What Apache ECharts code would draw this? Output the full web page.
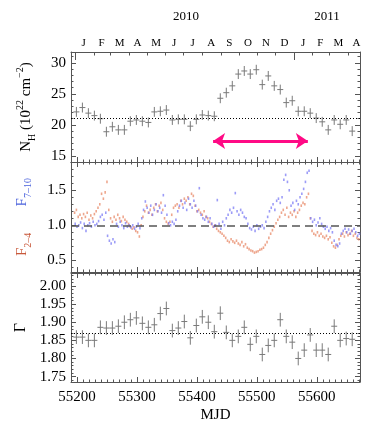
<!DOCTYPE html>
<html>
<head>
<meta charset="utf-8">
<script src="https://cdn.jsdelivr.net/npm/echarts@6/dist/echarts.min.js"></script>
<style>html,body{margin:0;padding:0;background:#fff}#chart{width:369px;height:424px}</style>
</head>
<body>
<div id="chart"></div>
<script>
// time axis (MJD)
var MJD_MIN = 55190, MJD_MAX = 55672;
var mjdTicks = [55200, 55300, 55400, 55500, 55600];

// 10 day bins: NH and photon index
var binStart = 55199, binStep = 10, binHalfWidth = 5;
var nhValues = [22.1, 22.8, 21.9, 21.5, 21.0, 18.9, 19.7, 19.2, 19.2, 20.6, 20.8, 20.6, 20.4, 22.1, 22.2, 22.4,
  20.8, 20.9, 20.9, 19.8, 20.9, 21.6, 21.5, 21.4, 24.3, 25.2, 26.3, 28.2, 28.7, 28.2, 28.9, 26.5,
  27.9, 26.3, 25.7, 23.6, 23.9, 22.2, 22.2, 21.9, 21.1, 20.5, 19.2, 20.8, 20.1, 20.8, 19.0];
var nhErr = 0.8;
var gammaValues = [1.859, 1.859, 1.850, 1.850, 1.886, 1.884, 1.884, 1.889, 1.900, 1.907, 1.912, 1.897, 1.886, 1.893, 1.924, 1.938,
  1.877, 1.884, 1.902, 1.857, 1.891, 1.915, 1.900, 1.874, 1.925, 1.872, 1.850, 1.861, 1.886, 1.839, 1.861, 1.811,
  1.836, 1.850, 1.907, 1.861, 1.845, 1.800, 1.823, 1.865, 1.823, 1.823, 1.811, 1.889, 1.850, 1.855, 1.853];
var gammaErr = 0.019;

// normalised fluxes, sampled every 3 days
var fluxStep = 3;
var f24Start = 55196;
var f24Values = [1.18, 1.22, 1.12, 1.15, 1.10, 1.16, 1.12, 1.18, 1.08, 1.14, 1.10, 1.16, 1.20,
  1.25, 1.30, 1.45, 1.38, 1.47, 1.62, 1.22, 1.10, 1.05, 1.12, 1.08, 1.15, 1.10, 1.06, 1.12, 1.08, 1.05, 1.02,
  0.98, 0.95, 0.97, 0.92, 0.90, 0.84, 1.00, 1.12, 1.20, 1.28, 1.18, 1.22, 1.15, 1.25, 1.30, 1.20, 1.28, 1.32, 1.22, 1.10, 1.05,
  1.02, 1.05, 1.15, 1.25, 1.28, 1.30, 1.25, 1.35, 1.30, 1.38, 1.35, 1.40, 1.30, 1.45, 1.42, 1.28, 1.20,
  1.22, 1.18, 1.15, 1.20, 1.12, 1.10, 1.05, 1.02, 0.98, 1.00, 0.95, 0.92, 0.90, 0.88, 0.85, 0.82,
  0.78, 0.76, 0.80, 0.77, 0.75, 0.78, 0.74, 0.72, 0.76, 0.70, 0.73, 0.68, 0.66,
  0.64, 0.63, 0.61, 0.62, 0.63, 0.65, 0.66, 0.68, 0.72, 0.76, 0.82, 0.88, 0.93, 0.98, 1.03,
  1.08, 1.12, 1.18, 1.22, 1.15, 1.25, 1.12, 1.18, 1.15, 1.20, 1.12, 1.18, 1.22, 1.28, 1.32,
  1.30, 1.40, 1.45, 1.10, 0.92, 0.88, 0.86, 0.90, 0.85, 0.88, 0.84,
  0.82, 0.85, 0.80, 0.83, 0.75, 0.70, 0.68, 0.72, 0.80, 0.85, 0.88, 0.84, 0.90, 0.86, 0.88, 0.92, 0.85, 0.88, 0.82, 0.80];
var f710Start = 55197;
var f710Values = [1.02, 0.98, 1.00, 1.04, 0.96, 1.02, 0.92, 1.00, 1.03, 0.98, 1.05, 1.00, 1.02, 1.06,
  1.12, 1.15, 1.08, 1.18, 0.85, 0.78, 0.74, 0.80, 0.76, 1.02, 0.98, 1.05, 1.00, 0.96, 1.03, 0.98, 1.00,
  0.97, 1.00, 0.95, 0.98, 1.02, 0.96, 1.10, 1.22, 1.34, 1.25, 1.18, 1.28, 1.15, 1.22, 1.30, 1.20, 1.25, 1.18, 1.43, 1.28, 1.15,
  1.03, 1.00, 1.05, 1.02, 1.08, 1.20, 1.28, 1.35, 1.25, 1.32, 1.22, 1.38, 1.30, 1.25, 1.35, 1.28, 1.20, 1.53,
  1.15, 1.10, 1.08, 1.12, 1.05, 1.10, 1.02, 0.98, 1.00, 1.36, 1.02, 0.95, 1.05, 1.00, 1.10,
  1.15, 1.22, 1.18, 1.25, 1.46, 1.20, 1.15, 1.22, 1.18, 1.12, 1.10, 1.02,
  0.96, 0.94, 0.98, 0.92, 1.00, 0.95, 0.98, 1.00, 0.96, 1.05, 1.12, 1.20, 1.25, 1.30, 1.22, 1.35, 1.38, 1.32, 1.40,
  1.65, 1.72, 1.62, 1.50, 1.28, 1.32, 1.22, 1.35, 1.30, 1.40, 1.45, 1.52, 1.62, 1.75, 1.78,
  1.10, 1.05, 1.08, 1.00, 1.04, 1.10, 1.02, 0.98, 0.95, 0.98, 0.92, 0.96, 0.90, 0.78, 0.72, 0.70, 0.74,
  0.88, 0.92, 0.95, 0.90, 0.94, 0.88, 0.92, 0.95, 0.90, 0.85, 0.88];

// reference levels and the marked interval
var nhRef = 21, ratioRef = 1.0, gammaRef = 1.87;
var arrowFrom = [55427, 17.4], arrowTo = [55585, 17.4];

// tick labels
var nhTicks = [15, 20, 25, 30];
var ratioTicks = [0.5, 1.0, 1.5];
var gammaTicks = [1.75, 1.80, 1.85, 1.90, 1.95, 2.00];
var monthStarts = [55197, 55228, 55256, 55287, 55317, 55348, 55378, 55409, 55440, 55470, 55501, 55531, 55562, 55593, 55621, 55652];
var monthMids = [55211, 55241, 55271, 55301, 55332, 55362, 55393, 55424, 55454, 55485, 55515, 55546, 55577, 55606, 55636, 55666];
var monthLetters = ['J', 'F', 'M', 'A', 'M', 'J', 'J', 'A', 'S', 'O', 'N', 'D', 'J', 'F', 'M', 'A'];
var yearStarts = [55197, 55562];
var yearPos = [55382, 55617];
var yearLabels = ['2010', '2011'];

var FONT = 'Liberation Serif';
var AX = '#555';
var ERR = '#7a7a7a';

function range(a, b, s) {
    var r = [];
    for (var v = a; v <= b + 1e-9; v += s) r.push(+v.toFixed(4));
    return r;
}
var mjdMinor = range(55190, 55670, 10);

function xAx(grid, pos, vals, len, line, extra) {
    return Object.assign({
        type: 'value', gridIndex: grid, position: pos, min: MJD_MIN, max: MJD_MAX,
        axisLine: {show: line, onZero: false, lineStyle: {color: AX, width: 1}},
        axisTick: {show: true, inside: true, length: len, customValues: vals, lineStyle: {color: AX, width: 1}},
        axisLabel: {show: false},
        splitLine: {show: false}
    }, extra || {});
}
function yAx(grid, pos, min, max, vals, len, line, extra) {
    return Object.assign({
        type: 'value', gridIndex: grid, position: pos, min: min, max: max,
        axisLine: {show: line, onZero: false, lineStyle: {color: AX, width: 1}},
        axisTick: {show: true, inside: true, length: len, customValues: vals, lineStyle: {color: AX, width: 1}},
        axisLabel: {show: false},
        splitLine: {show: false}
    }, extra || {});
}
function lbl(vals, fmt, margin) {
    return {show: true, customValues: vals, formatter: fmt, margin: margin,
        fontFamily: FONT, fontSize: 15, color: '#000'};
}

var xAxes = [
    xAx(0, 'bottom', mjdTicks, 5, true),
    xAx(0, 'bottom', mjdMinor, 2.5, false),
    xAx(0, 'top', monthStarts, 3.5, true, {
        axisLabel: {show: true, customValues: monthMids, margin: 3, fontFamily: FONT, fontSize: 11, color: '#000',
            formatter: function (v) { return monthLetters[monthMids.indexOf(v)]; }}
    }),
    xAx(0, 'top', yearStarts, 8, false, {
        axisLabel: {show: true, customValues: yearPos, margin: 29, fontFamily: FONT, fontSize: 13, color: '#000',
            formatter: function (v) { return yearLabels[yearPos.indexOf(v)]; }}
    }),
    xAx(1, 'bottom', mjdTicks, 5, true),
    xAx(1, 'bottom', mjdMinor, 2.5, false),
    xAx(1, 'top', mjdTicks, 5, true),
    xAx(1, 'top', mjdMinor, 2.5, false),
    xAx(2, 'bottom', mjdTicks, 5, true, {
        axisLabel: lbl(mjdTicks, function (v) { return String(v); }, 8),
        name: 'MJD', nameLocation: 'middle', nameGap: 26,
        nameTextStyle: {fontFamily: FONT, fontSize: 15, color: '#000'}
    }),
    xAx(2, 'bottom', mjdMinor, 2.5, false),
    xAx(2, 'top', mjdTicks, 5, true),
    xAx(2, 'top', mjdMinor, 2.5, false)
];

var nhMin = 14.02, nhMax = 31.76;
var rMin = 0.333, rMax = 1.904;
var gMin = 1.735, gMax = 2.036;
var nhMinor = range(15, 31, 1), rMinor = range(0.4, 1.9, 0.1), gMinor = range(1.74, 2.03, 0.01);

var yAxes = [
    yAx(0, 'left', nhMin, nhMax, nhTicks, 5, true, {
        axisLabel: lbl(nhTicks, function (v) { return String(v); }, 5),
        name: '{n|N}{sub|H}{n| (10}{sup|22}{n| cm}{sup|−2}{n|)}', nameLocation: 'middle', nameGap: 34,
        nameTextStyle: {fontFamily: FONT, fontSize: 15, color: '#000', rich: {
            n: {fontFamily: FONT, fontSize: 15, lineHeight: 22, verticalAlign: 'middle'},
            sub: {fontFamily: FONT, fontSize: 10, lineHeight: 10, verticalAlign: 'bottom'},
            sup: {fontFamily: FONT, fontSize: 10, lineHeight: 10, verticalAlign: 'top'}
        }}
    }),
    yAx(0, 'left', nhMin, nhMax, nhMinor, 2.5, false),
    yAx(0, 'right', nhMin, nhMax, nhTicks, 5, true),
    yAx(0, 'right', nhMin, nhMax, nhMinor, 2.5, false),

    yAx(1, 'left', rMin, rMax, ratioTicks, 5, true, {
        axisLabel: lbl(ratioTicks, function (v) { return v.toFixed(1); }, 5),
        name: '{fr|F}{sr|2–4}{n|       }{fb|F}{sb|7–10}', nameLocation: 'middle', nameGap: 38,
        nameTextStyle: {fontFamily: FONT, fontSize: 15, rich: {
            n: {fontFamily: FONT, fontSize: 15, lineHeight: 22, verticalAlign: 'middle'},
            fr: {fontFamily: FONT, fontSize: 15, lineHeight: 22, verticalAlign: 'middle', color: '#c8583a'},
            sr: {fontFamily: FONT, fontSize: 10, lineHeight: 10, verticalAlign: 'bottom', color: '#c8583a'},
            fb: {fontFamily: FONT, fontSize: 15, lineHeight: 22, verticalAlign: 'middle', color: '#4b62dc'},
            sb: {fontFamily: FONT, fontSize: 10, lineHeight: 10, verticalAlign: 'bottom', color: '#4b62dc'}
        }}
    }),
    yAx(1, 'left', rMin, rMax, rMinor, 2.5, false),
    yAx(1, 'right', rMin, rMax, ratioTicks, 5, true),
    yAx(1, 'right', rMin, rMax, rMinor, 2.5, false),

    yAx(2, 'left', gMin, gMax, gammaTicks, 5, true, {
        axisLabel: lbl(gammaTicks, function (v) { return v.toFixed(2); }, 5),
        name: 'Γ', nameLocation: 'middle', nameGap: 40,
        nameTextStyle: {fontFamily: FONT, fontSize: 16, color: '#000'}
    }),
    yAx(2, 'left', gMin, gMax, gMinor, 2.5, false),
    yAx(2, 'right', gMin, gMax, gammaTicks, 5, true),
    yAx(2, 'right', gMin, gMax, gMinor, 2.5, false)
];

function binData(vals, err) {
    return vals.map(function (v, i) { return [binStart + binStep * i, v, err, binHalfWidth]; });
}
function fluxData(start, vals) {
    return vals.map(function (v, i) { return [start + fluxStep * i, v]; });
}
function errRender(params, api) {
    var x = api.value(0), y = api.value(1), e = api.value(2), hw = api.value(3);
    var lo = api.coord([x, y - e]), hi = api.coord([x, y + e]);
    var l = api.coord([x - hw, y]), r = api.coord([x + hw, y]);
    var st = {stroke: ERR, lineWidth: 1};
    return {type: 'group', children: [
        {type: 'line', shape: {x1: lo[0], y1: lo[1], x2: hi[0], y2: hi[1]}, style: st},
        {type: 'line', shape: {x1: l[0], y1: l[1], x2: r[0], y2: r[1]}, style: st}
    ]};
}
function refLine(val, type, color, width) {
    return {silent: true, symbol: ['none', 'none'], label: {show: false},
        lineStyle: {type: type, color: color, width: width},
        data: [{yAxis: val}]};
}

var chart = echarts.init(document.getElementById('chart'));
chart.setOption({
    animation: false,
    backgroundColor: '#fff',
    grid: [
        {left: 71, right: 9, top: 52, height: 110},
        {left: 71, right: 9, top: 162, height: 110},
        {left: 71, right: 9, top: 273, height: 111}
    ],
    xAxis: xAxes,
    yAxis: yAxes,
    series: [
        {
            type: 'custom', xAxisIndex: 0, yAxisIndex: 0, renderItem: errRender,
            encode: {x: 0, y: 1}, data: binData(nhValues, nhErr),
            markLine: {silent: true, label: {show: false}, symbol: ['none', 'none'], data: [
                {yAxis: nhRef, lineStyle: {type: [1, 2], color: '#000', width: 1}},
                [
                    {coord: arrowFrom, symbol: 'arrow', symbolSize: [12, 12]},
                    {coord: arrowTo, symbol: 'arrow', symbolSize: [12, 12],
                        lineStyle: {color: '#ff0a85', width: 3, type: 'solid'}}
                ]
            ]}
        },
        {
            type: 'scatter', xAxisIndex: 4, yAxisIndex: 4, symbol: 'rect', symbolSize: [1.6, 2.6],
            itemStyle: {color: '#e88a68', opacity: 0.75},
            data: fluxData(f24Start, f24Values),
            markLine: refLine(ratioRef, [8, 5], '#555', 1.5)
        },
        {
            type: 'scatter', xAxisIndex: 4, yAxisIndex: 4, symbol: 'rect', symbolSize: [1.6, 2.6],
            itemStyle: {color: '#7b7bf4', opacity: 0.75},
            data: fluxData(f710Start, f710Values)
        },
        {
            type: 'custom', xAxisIndex: 8, yAxisIndex: 8, renderItem: errRender,
            encode: {x: 0, y: 1}, data: binData(gammaValues, gammaErr),
            markLine: refLine(gammaRef, [1, 2], '#000', 1)
        }
    ]
});
</script>
</body>
</html>
